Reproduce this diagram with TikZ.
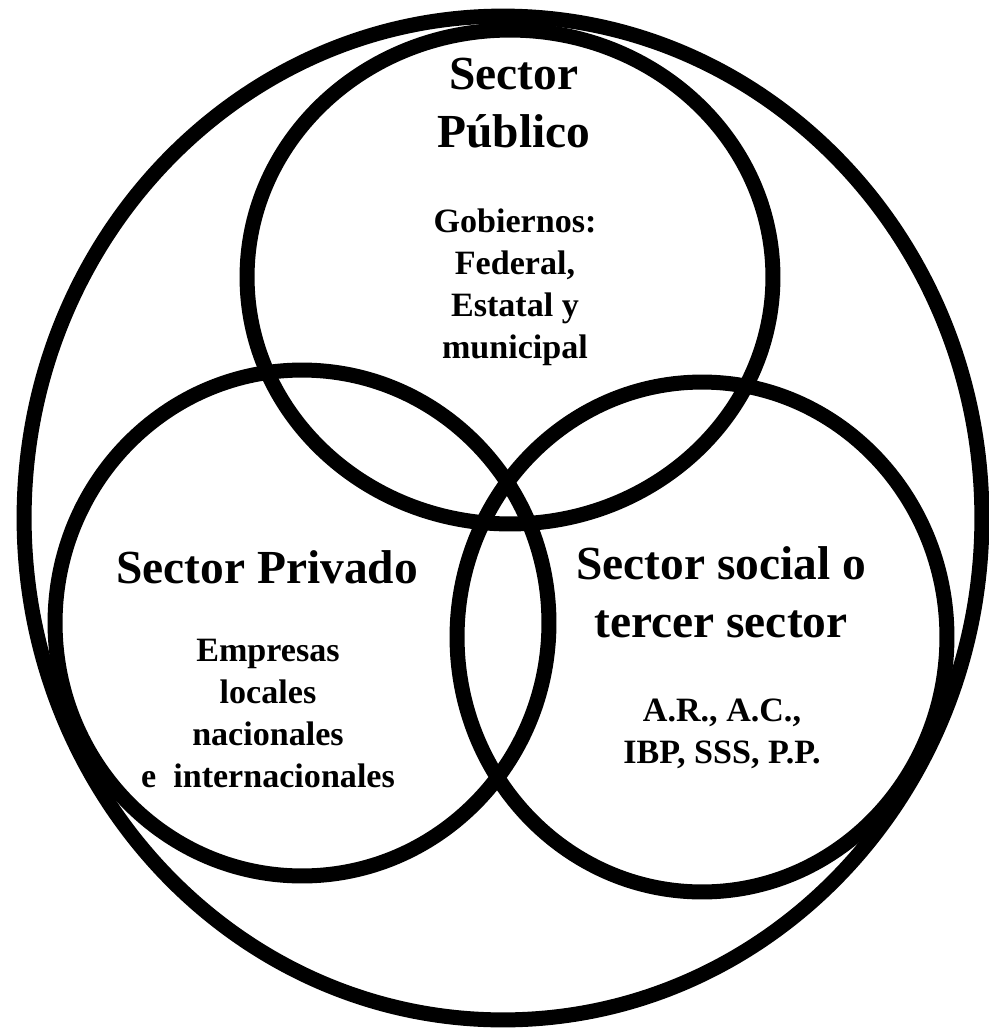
\documentclass[tikz,border=0pt]{standalone}
\usepackage{fontspec}
\setmainfont{Liberation Serif}
\usetikzlibrary{shapes.geometric}
\begin{document}
\begin{tikzpicture}[x=0.02cm, y=-0.02cm,
    sector/.style={ellipse, draw, line width=0.3cm, inner sep=0pt},
    title/.style={align=center, anchor=base, font=\bfseries\fontsize{27}{33}\selectfont},
    body/.style={align=center, anchor=base, font=\bfseries\fontsize{19.4}{23.8}\selectfont}]
  \useasboundingbox (0,0) rectangle (988,1028);

  % the three sectors inside the whole
  \node[sector, minimum width=19.16cm, minimum height=20.08cm] (all) at (503,518) {};
  \node[sector, minimum width=10.52cm, minimum height=9.88cm] (pub) at (510,277) {};
  \node[sector, minimum width=9.88cm, minimum height=10.12cm] (priv) at (302,623) {};
  \node[sector, minimum width=9.8cm, minimum height=10.2cm] (soc) at (702,637) {};

  % base = baseline of the last line
  \node[title] (pubt) at (514,147) {Sector\\Público};
  \node[body] (pubb) at (515,358) {Gobiernos:\\Federal,\\Estatal y\\municipal};

  \node[title] (privt) at (267,583) {Sector Privado};
  \node[body] (privb) at (268,787) {Empresas\\locales\\nacionales\\e\ \ internacionales};

  \node[title] (soct) at (721,637) {Sector social o\\tercer sector};
  \node[body] (socb) at (722,763) {A.R., A.C.,\\IBP, SSS, P.P.};
\end{tikzpicture}
\end{document}
